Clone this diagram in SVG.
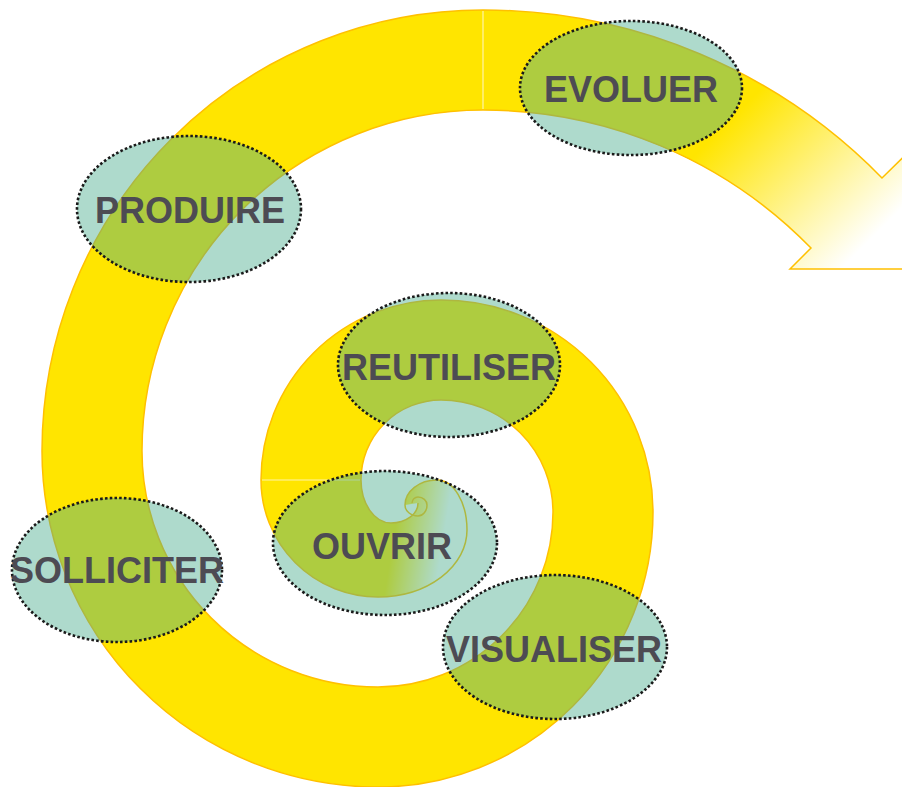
<svg xmlns="http://www.w3.org/2000/svg" width="902" height="787" viewBox="0 0 902 787">
<defs>
<linearGradient id="arrowFade" gradientUnits="userSpaceOnUse" x1="740" y1="110" x2="870" y2="240">
<stop offset="0" stop-color="#FFE500"/>
<stop offset="1" stop-color="#FFFFFF"/>
</linearGradient>
<linearGradient id="curlFade" gradientUnits="userSpaceOnUse" x1="393" y1="540" x2="442" y2="548">
<stop offset="0" stop-color="#FFE500" stop-opacity="1"/>
<stop offset="1" stop-color="#FFE500" stop-opacity="0"/>
</linearGradient>
</defs>
<style>
.band{fill:#FFE500;stroke:none}
.edge{fill:none;stroke:#FFC000;stroke-width:1.5;stroke-linejoin:miter}
.seam{stroke:#FFF3A8;stroke-width:1.2}
.node ellipse{fill:#4BAC8E;fill-opacity:0.45;stroke:#1A1A1A;stroke-width:2.6;stroke-dasharray:2.6 2.2}
.node text{font-family:"Liberation Sans",Arial,sans-serif;font-weight:bold;font-size:36px;fill:#4D4B53;text-anchor:middle}
</style>
<rect width="902" height="787" fill="#FFFFFF"/>
<g id="connectors">
<path class="band" d="M740,73 A558,558 0 0 0 483,10 A441,441 0 0 0 42,451 A336,336 0 0 0 378,787 A275,275 0 0 0 653,512 A212,212 0 0 0 441,300 A180,180 0 0 0 261,480 L361,480 A80,80 0 0 1 441,400 A112,112 0 0 1 553,512 A175,175 0 0 1 378,687 A236,236 0 0 1 142,451 A341,341 0 0 1 483,110 A458,458 0 0 1 694,161.5 Z"/>
<path fill="url(#arrowFade)" d="M674,44 A558,558 0 0 1 882,178 L935,126 L990,269 L790,269 L811,248 A458,458 0 0 0 640,138 Z"/>
<path fill="url(#curlFade)" d="M261,480 A117,117 0 0 0 378,597 A89,67 0 0 0 467,530 A30,50 0 0 0 437,480 A32,25 0 0 0 405,505 L418,503 A27,20 0 0 1 391,523 A30,43 0 0 1 361,480 Z"/>
<line class="seam" x1="483" y1="11" x2="483" y2="109"/>
<line class="seam" x1="262" y1="480" x2="360" y2="480"/>
<path class="edge" d="M935,126 L882,178 A558,558 0 0 0 483,10 A441,441 0 0 0 42,451 A336,336 0 0 0 378,787 A275,275 0 0 0 653,512 A212,212 0 0 0 441,300 A180,180 0 0 0 261,480 A117,117 0 0 0 378,597 A89,67 0 0 0 467,530 A30,50 0 0 0 437,480 A32,25 0 0 0 405,505 A13,11 0 0 0 418,516 A9,11 0 0 0 427,505 A9,8 0 0 0 418,497 A6,6 0 0 0 412,503"/>
<path class="edge" d="M990,269 L790,269 L811,248 A458,458 0 0 0 483,110 A341,341 0 0 0 142,451 A236,236 0 0 0 378,687 A175,175 0 0 0 553,512 A112,112 0 0 0 441,400 A80,80 0 0 0 361,480 A30,43 0 0 0 391,523 A27,20 0 0 0 418,503"/>
</g>
<g id="evoluer" class="node">
<ellipse cx="631" cy="88" rx="111" ry="67"/>
<text x="631" y="102">EVOLUER</text>
</g>
<g id="produire" class="node">
<ellipse cx="189" cy="209" rx="112" ry="73"/>
<text x="190" y="223">PRODUIRE</text>
</g>
<g id="reutiliser" class="node">
<ellipse cx="449" cy="365" rx="111" ry="72"/>
<text x="449" y="380">REUTILISER</text>
</g>
<g id="ouvrir" class="node">
<ellipse cx="385" cy="543" rx="112" ry="72"/>
<text x="382" y="559">OUVRIR</text>
</g>
<g id="solliciter" class="node">
<ellipse cx="117" cy="570" rx="105" ry="72"/>
<text x="117" y="583">SOLLICITER</text>
</g>
<g id="visualiser" class="node">
<ellipse cx="555" cy="647" rx="112" ry="72"/>
<text x="554" y="662">VISUALISER</text>
</g>
</svg>
